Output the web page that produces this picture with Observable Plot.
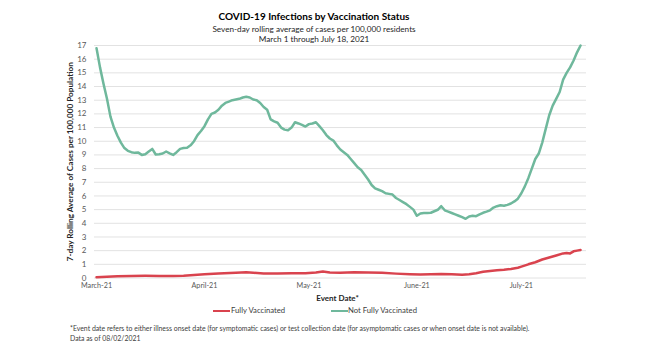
<!DOCTYPE html>
<html>
<head>
<meta charset="utf-8">
<script src="https://cdn.jsdelivr.net/npm/d3@7"></script>
<script src="https://cdn.jsdelivr.net/npm/@observablehq/plot@0.6"></script>
<style>
  body { margin: 0; background: #fff; font-family: Lato, "Open Sans", sans-serif; }
  #wrap { position: relative; width: 662px; height: 357px; overflow: hidden; background: #fff; }
  .t { position: absolute; left: 0; width: 628px; text-align: center; white-space: nowrap; color: #000; }
  #chart { position: absolute; left: 0; top: 40px; }
  .sw { position: absolute; height: 2.5px; }
  .lg { position: absolute; font-size: 7.7px; line-height: 9px; color: #404040; white-space: nowrap; }
  #foot { position: absolute; left: 70px; top: 323px; font-size: 6.9px; line-height: 10px; color: #404040; white-space: nowrap; }
</style>
</head>
<body>
<div id="wrap">
  <div class="t" style="top:11px;font-size:10px;line-height:11px;font-weight:bold;">COVID-19 Infections by Vaccination Status</div>
  <div class="t" style="top:25px;font-size:8.2px;line-height:8px;color:#262626;">Seven-day rolling average of cases per 100,000 residents</div>
  <div class="t" style="top:34.5px;font-size:8.2px;line-height:8px;color:#262626;">March 1 through July 18, 2021</div>
  <div id="chart"></div>
  <div class="sw" style="left:213px;top:309.5px;width:17px;background:#d9434e;"></div>
  <div class="lg" style="left:231px;top:306px;">Fully Vaccinated</div>
  <div class="sw" style="left:331px;top:309.5px;width:17px;background:#6fb89c;"></div>
  <div class="lg" style="left:348px;top:306px;">Not Fully Vaccinated</div>
  <div id="foot">*Event date refers to either illness onset date (for symptomatic cases) or test collection date (for asymptomatic cases or when onset date is not available).<br>Data as of 08/02/2021</div>
</div>
<script>
// ---- data ----
const startDate = "2021-03-01"; // first day of the daily series (March 1, 2021)

// Not Fully Vaccinated: 7-day rolling average per 100,000, one value per day, Mar 1 .. Jul 18
const notFullyVaccinated = [
  16.8, 15.4, 14.2, 13.1, 11.8, 11.0, 10.4, 9.9, 9.5, 9.3,
  9.2, 9.15, 9.17, 9.0, 9.05, 9.25, 9.44, 9.03, 9.05, 9.1,
  9.25, 9.12, 9.0, 9.2, 9.44, 9.5, 9.52, 9.7, 10.0, 10.45,
  10.75, 11.1, 11.6, 12.0, 12.1, 12.3, 12.6, 12.8, 12.9, 13.0,
  13.05, 13.1, 13.2, 13.25, 13.2, 13.05, 13.0, 12.8, 12.5, 12.3,
  11.6, 11.45, 11.35, 11.0, 10.85, 10.8, 11.0, 11.39, 11.3, 11.2,
  11.07, 11.25, 11.3, 11.39, 11.1, 10.8, 10.45, 10.2, 10.05, 9.7,
  9.4, 9.2, 9.0, 8.7, 8.4, 8.1, 7.9, 7.55, 7.2, 6.8,
  6.55, 6.45, 6.35, 6.2, 6.15, 6.1, 5.85, 5.7, 5.55, 5.4,
  5.2, 5.0, 4.55, 4.72, 4.75, 4.76, 4.77, 4.88, 4.99, 5.25,
  4.95, 4.85, 4.75, 4.65, 4.55, 4.45, 4.33, 4.5, 4.55, 4.52,
  4.65, 4.77, 4.85, 4.95, 5.15, 5.25, 5.32, 5.28, 5.35, 5.45,
  5.6, 5.8, 6.2, 6.7, 7.3, 8.0, 8.7, 9.1, 9.9, 10.9,
  11.9, 12.6, 13.1, 13.6, 14.5, 15.0, 15.4, 15.9, 16.5, 17.0
];

// Fully Vaccinated: values read at these day offsets from March 1
const fullyDays = [0, 3, 6, 10, 14, 18, 22, 25, 28, 31, 35, 40, 43, 45, 48, 52, 56, 60, 63, 65,
  67, 70, 74, 78, 82, 86, 90, 93, 96, 99, 102, 105, 107, 109, 111, 113, 115, 117, 119, 121,
  122, 124, 126, 128, 130, 132, 134, 135, 136, 137, 138, 139];
const fullyVaccinated = [0.06, 0.1, 0.12, 0.15, 0.16, 0.15, 0.15, 0.17, 0.22, 0.27, 0.33, 0.38, 0.42, 0.38, 0.33, 0.33, 0.35, 0.35, 0.4, 0.48,
  0.4, 0.38, 0.42, 0.4, 0.38, 0.32, 0.28, 0.25, 0.27, 0.3, 0.27, 0.24, 0.28, 0.35, 0.45, 0.52, 0.57, 0.6, 0.66, 0.75,
  0.83, 1.0, 1.15, 1.35, 1.5, 1.65, 1.8, 1.82, 1.8, 1.95, 2.0, 2.05];

const yTicks = [0,1,2,3,4,5,6,7,8,9,10,11,12,13,14,15,16,17];
const monthTicks = ["2021-03-01", "2021-04-01", "2021-05-01", "2021-06-01", "2021-07-01"];
const monthLabels = ["March-21", "April-21", "May-21", "June-21", "July-21"];
const yLabel = "7-day Rolling Average of Cases per 100,000 Population";
const xLabel = "Event Date*";

// ---- build tables ----
const start = new Date(startDate);
const notFully = notFullyVaccinated.map((v, i) => ({date: d3.utcDay.offset(start, i), value: v}));
const fully = fullyDays.map((d, i) => ({date: d3.utcDay.offset(start, d), value: fullyVaccinated[i]}));

const chart = Plot.plot({
  width: 662,
  height: 266,
  marginLeft: 94,
  marginRight: 76,
  marginTop: 5,
  marginBottom: 28.5,
  style: {background: "transparent", overflow: "visible", fontFamily: "Lato, 'Open Sans', sans-serif"},
  x: {type: "utc", domain: [new Date(Date.UTC(2021, 1, 28, 10)), new Date(Date.UTC(2021, 6, 19, 17))], axis: null},
  y: {domain: [0, 17], axis: null},
  marks: [
    Plot.ruleY(yTicks, {stroke: "#e2e2e2", strokeWidth: 1}),
    Plot.line(fully, {x: "date", y: "value", stroke: "#d9434e", strokeWidth: 2.5}),
    Plot.line(notFully, {x: "date", y: "value", stroke: "#6fb89c", strokeWidth: 2.5}),
    Plot.text(yTicks, {y: d => d, text: d => String(d), frameAnchor: "left", dx: -8, textAnchor: "end", fontSize: 8, fill: "#595959"}),
    Plot.text(monthTicks, {x: d => new Date(d), text: (d, i) => monthLabels[i], frameAnchor: "bottom", lineAnchor: "top", dy: 5, fontSize: 7.2, fill: "#595959"}),
    Plot.text([yLabel], {frameAnchor: "left", dx: -24, rotate: -90, textAnchor: "middle", fontWeight: "bold", fontSize: 8.2, fill: "#262626"}),
    Plot.text([xLabel], {frameAnchor: "bottom", dx: -3, dy: 22.5, fontWeight: "bold", fontSize: 8, fill: "#262626"})
  ]
});
document.getElementById("chart").appendChild(chart);
</script>
</body>
</html>
